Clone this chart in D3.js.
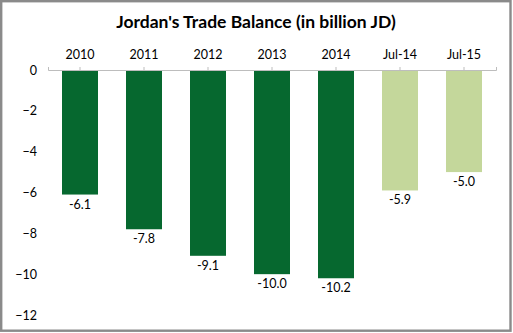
<!DOCTYPE html>
<html><head><meta charset="utf-8">
<script src="https://cdn.jsdelivr.net/npm/d3@7"></script>
<style>html,body{margin:0;padding:0;background:#fff}svg{display:block}</style>
</head><body>
<script>
const categories = ["2010","2011","2012","2013","2014","Jul-14","Jul-15"];
const values = [-6.1,-7.8,-9.1,-10.0,-10.2,-5.9,-5.0];
const labels = ["-6.1","-7.8","-9.1","-10.0","-10.2","-5.9","-5.0"];
const seriesType = ["annual","annual","annual","annual","annual","partial","partial"];
const yTicks = [0,-2,-4,-6,-8,-10,-12];
const title = "Jordan's Trade Balance (in billion JD)";

const W = 513, H = 333;
const font = "Lato, 'Open Sans', sans-serif";
const svg = d3.select("body").append("svg").attr("width", W).attr("height", H);

svg.append("rect").attr("x",1.2).attr("y",1.2).attr("width",509.3).attr("height",329.5)
  .attr("fill","#fff").attr("stroke","#8a8a8a").attr("stroke-width",2.4);

const x = d3.scaleBand().domain(categories).range([48,496]).paddingInner(0.4375).paddingOuter(0.21875);
const y = d3.scaleLinear().domain([-12,0]).range([315,70]);
const color = d => d === "annual" ? "#06682f" : "#c4d79b";

svg.append("text").attr("x",256).attr("y",28).attr("text-anchor","middle")
  .attr("font-family",font).attr("font-weight","bold").attr("font-size",17.5).attr("fill","#000")
  .text(title);

const yAxis = d3.axisLeft(y).tickValues(yTicks).tickFormat(d3.format("d")).tickSize(0).tickPadding(0);
const gy = svg.append("g").attr("transform","translate(37,0)").call(yAxis);
gy.select(".domain").remove();
gy.selectAll("text").attr("font-family",font).attr("font-size",12.5).attr("fill","#000");

svg.append("g").selectAll("rect").data(categories).join("rect")
  .attr("x", d => x(d)).attr("width", x.bandwidth())
  .attr("y", y(0)).attr("height", (d,i) => y(values[i]) - y(0))
  .attr("fill", (d,i) => color(seriesType[i]));

const xAxis = d3.axisTop(x).tickSize(3).tickSizeOuter(3).tickPadding(8);
const gx = svg.append("g").attr("transform",`translate(0,${y(0)})`).call(xAxis);
gx.select(".domain").attr("stroke","#bdbdbd");
gx.selectAll(".tick line").attr("stroke","#bdbdbd");
gx.selectAll("text").attr("font-family",font).attr("font-size",12.5).attr("fill","#000");

svg.append("g").selectAll("text").data(categories).join("text")
  .attr("x", d => x(d) + x.bandwidth()/2)
  .attr("y", (d,i) => y(values[i]) + 14)
  .attr("text-anchor","middle").attr("font-family",font).attr("font-size",12.5).attr("fill","#000")
  .text((d,i) => labels[i]);
</script>
</body></html>
